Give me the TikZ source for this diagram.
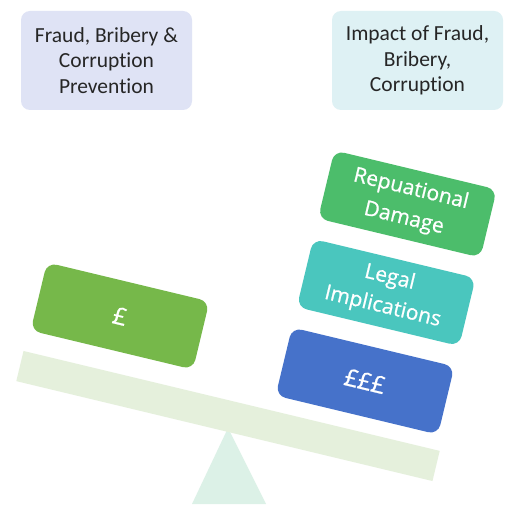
\documentclass[tikz,border=0pt]{standalone}
\usepackage{fontspec}
\setmainfont{Carlito}[Ligatures=NoCommon]
\newfontfamily\boxfont{Open Sans}[FakeBold=0.8]
\definecolor{headA}{HTML}{DFE3F5}
\definecolor{headB}{HTML}{DEF1F4}
\definecolor{textgray}{HTML}{262626}
\definecolor{beamcol}{HTML}{E5F0DC}
\definecolor{fulcrumcol}{HTML}{DCF1E7}
\definecolor{poundcol}{HTML}{76B84A}
\definecolor{repcol}{HTML}{4CBD6B}
\definecolor{legalcol}{HTML}{4AC6BE}
\definecolor{moneycol}{HTML}{4672CA}
\begin{document}
\begin{tikzpicture}[x=1pt,y=1pt,
  headbox/.style={rounded corners=9pt, minimum width=171pt, minimum height=99pt,
    align=center, font=\fontsize{21.5}{25.5}\selectfont, text=textgray, inner sep=0pt},
  weight/.style={rounded corners=10pt, minimum width=167pt, minimum height=70pt,
    align=center, rotate=-13.5, text=white, font=\boxfont\fontsize{21}{30}\selectfont, inner sep=0pt},
  poundtext/.style={font=\boxfont\fontsize{24}{30}\selectfont},
  beambar/.style={fill=beamcol, minimum width=428pt, minimum height=31pt, rotate=-13.5, inner sep=0pt}]
\useasboundingbox (0,0) rectangle (510,504);
\fill[white] (0,0) rectangle (510,504);
% headings
\node[headbox, fill=headA] (prev) at (106.5,443.5) {Fraud, Bribery \&\\Corruption\\Prevention};
\node[headbox, fill=headB] (impact) at (417.5,443.5) {Impact of Fraud,\\Bribery,\\Corruption};
% fulcrum
\coordinate (apex) at (228,76);
\coordinate (baseL) at (192,0);
\coordinate (baseR) at (266,0);
\fill[fulcrumcol] (apex) -- (baseL) -- (baseR) -- cycle;
% beam
\node[beambar] (beam) at (228,88) {};
% weights
\node[weight, poundtext, fill=poundcol] (pound) at (120,188) {£};
\node[weight, poundtext, fill=moneycol] (money) at (365,123) {£££};
\node[weight, fill=legalcol] (legal) at (386.2,211.5) {Legal\\Implications};
\node[weight, fill=repcol] (rep) at (407.4,300) {Repuational\\Damage};
\end{tikzpicture}
\end{document}
